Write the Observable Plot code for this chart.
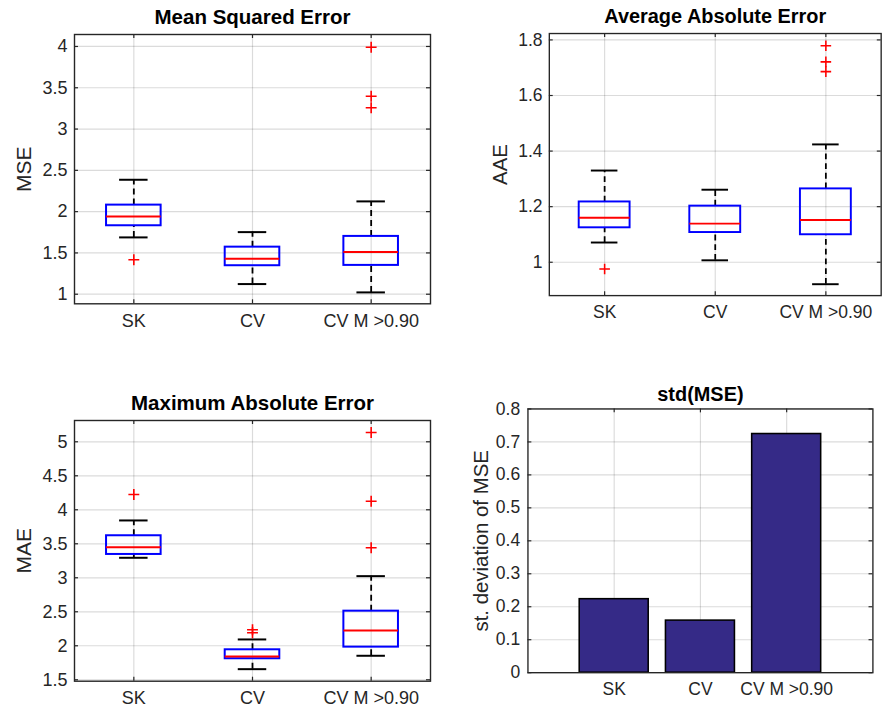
<!DOCTYPE html>
<html>
<head>
<meta charset="utf-8">
<script src="https://cdn.jsdelivr.net/npm/d3@7"></script>
<script src="https://cdn.jsdelivr.net/npm/@observablehq/plot@0.6"></script>
<style>
  html, body { margin: 0; padding: 0; background: #fff; overflow: hidden; }
  #wrap { position: relative; width: 887px; height: 707px; overflow: hidden; background: #fff; }
  .panel { position: absolute; }
</style>
</head>
<body>
<div id="wrap">
  <div class="panel" id="p1" style="left:0px;top:0px"></div>
  <div class="panel" id="p2" style="left:440px;top:0px"></div>
  <div class="panel" id="p3" style="left:0px;top:380px"></div>
  <div class="panel" id="p4" style="left:440px;top:380px"></div>
</div>
<script>
// ---------- data ----------
const categories = ["SK", "CV", "CV M >0.90"];

// Mean Squared Error
const mseLow    = [1.688, 1.123, 1.022];
const mseQ1     = [1.829, 1.345, 1.349];
const mseMedian = [1.942, 1.429, 1.510];
const mseQ3     = [2.079, 1.570, 1.700];
const mseHigh   = [2.386, 1.752, 2.124];
const mseOutliers = [[1.417], [], [3.990, 3.398, 3.258]];
const mseTicks  = [1, 1.5, 2, 2.5, 3, 3.5, 4];

// Average Absolute Error
const aaeLow    = [1.071, 1.007, 0.921];
const aaeQ1     = [1.124, 1.107, 1.099];
const aaeMedian = [1.160, 1.139, 1.152];
const aaeQ3     = [1.217, 1.202, 1.264];
const aaeHigh   = [1.330, 1.261, 1.424];
const aaeOutliers = [[0.976], [], [1.779, 1.721, 1.686]];
const aaeTicks  = [1, 1.2, 1.4, 1.6, 1.8];

// Maximum Absolute Error
const maeLow    = [3.294, 1.656, 1.853];
const maeQ1     = [3.343, 1.809, 1.980];
const maeMedian = [3.450, 1.843, 2.225];
const maeQ3     = [3.618, 1.941, 2.509];
const maeHigh   = [3.843, 2.093, 3.024];
const maeOutliers = [[4.225], [2.235, 2.191], [5.137, 4.126, 3.441]];
const maeTicks  = [1.5, 2, 2.5, 3, 3.5, 4, 4.5, 5];

// std(MSE)
const stdValues = [0.223, 0.158, 0.724];
const stdTicks  = [0, 0.1, 0.2, 0.3, 0.4, 0.5, 0.6, 0.7, 0.8];

// ---------- styling ----------
const FONT = "'Liberation Sans', Arial, Helvetica, sans-serif";
const INK = "#262626";
const fmt = d => String(+(+d).toFixed(3));

function frameMarks(W, H, m, yTicks, xTicks) {
  const fw = W - m.marginLeft - m.marginRight;
  const fh = H - m.marginTop - m.marginBottom;
  const tl = 4;
  return [
    Plot.ruleX(xTicks, {x: d => d, stroke: "#000", strokeOpacity: 0.14, strokeWidth: 1.2}),
    Plot.ruleY(yTicks, {y: d => d, stroke: "#000", strokeOpacity: 0.14, strokeWidth: 1.2}),
    Plot.tickY(yTicks, {y: d => d, stroke: INK, strokeWidth: 1.2, insetRight: fw - tl}),
    Plot.tickY(yTicks, {y: d => d, stroke: INK, strokeWidth: 1.2, insetLeft: fw - tl}),
    Plot.tickX(xTicks, {x: d => d, stroke: INK, strokeWidth: 1.2, insetBottom: fh - tl}),
    Plot.tickX(xTicks, {x: d => d, stroke: INK, strokeWidth: 1.2, insetTop: fh - tl})
  ];
}

function boxPanel(cfg) {
  const {W, H, m, yDomain, yTicks, low, q1, med, q3, high, outliers, title, ylabel, titleDy, labelDx} = cfg;
  const idx = categories.map((_, i) => i);
  const pos = [1, 2, 3];
  const pts = outliers.flatMap((arr, i) => arr.map(v => ({x: i + 1, y: v})));
  const bw = 0.23, cw = 0.12;
  return Plot.plot({
    width: W, height: H, ...m,
    style: {fontFamily: FONT, fontSize: "18px", color: INK, background: "transparent", overflow: "visible"},
    x: {type: "linear", domain: [0.5, 3.5], ticks: pos, tickFormat: d => categories[d - 1], tickSize: 0, tickPadding: 10, label: null},
    y: {domain: yDomain, ticks: yTicks, tickFormat: fmt, tickSize: 0, tickPadding: 7, label: null},
    marks: [
      ...frameMarks(W, H, m, yTicks, pos),
      Plot.ruleX(idx, {x: i => i + 1, y1: i => q3[i], y2: i => high[i], stroke: "#000", strokeWidth: 1.8, strokeDasharray: "6,4"}),
      Plot.ruleX(idx, {x: i => i + 1, y1: i => low[i], y2: i => q1[i], stroke: "#000", strokeWidth: 1.8, strokeDasharray: "6,4"}),
      Plot.ruleY(idx, {y: i => high[i], x1: i => i + 1 - cw, x2: i => i + 1 + cw, stroke: "#000", strokeWidth: 2}),
      Plot.ruleY(idx, {y: i => low[i], x1: i => i + 1 - cw, x2: i => i + 1 + cw, stroke: "#000", strokeWidth: 2}),
      Plot.rect(idx, {x1: i => i + 1 - bw, x2: i => i + 1 + bw, y1: i => q1[i], y2: i => q3[i], fill: "none", stroke: "#0000ff", strokeWidth: 2}),
      Plot.ruleY(idx, {y: i => med[i], x1: i => i + 1 - bw, x2: i => i + 1 + bw, stroke: "#ff0000", strokeWidth: 2}),
      Plot.dot(pts, {x: "x", y: "y", symbol: "plus", r: 3.6, stroke: "#ff0000", strokeWidth: 1.6}),
      Plot.frame({stroke: INK, strokeWidth: 1.4}),
      Plot.text([title], {frameAnchor: "top", dy: titleDy, lineAnchor: "middle", fontWeight: "bold", fontSize: 20.5, fill: "#000"}),
      Plot.text([ylabel], {frameAnchor: "left", dx: labelDx, rotate: -90, textAnchor: "middle", lineAnchor: "middle", fontSize: 21, fill: INK})
    ]
  });
}

// Panel 1
document.getElementById("p1").appendChild(boxPanel({
  W: 440, H: 340, m: {marginLeft: 74, marginRight: 10, marginTop: 34, marginBottom: 36.7},
  yDomain: [0.884, 4.145], yTicks: mseTicks,
  low: mseLow, q1: mseQ1, med: mseMedian, q3: mseQ3, high: mseHigh, outliers: mseOutliers,
  title: "Mean Squared Error", ylabel: "MSE", titleDy: -17, labelDx: -50
}));

// Panel 2
document.getElementById("p2").appendChild(boxPanel({
  W: 460, H: 340, m: {marginLeft: 112, marginRight: 6.5, marginTop: 34, marginBottom: 36.3},
  yDomain: [0.880, 1.823], yTicks: aaeTicks,
  low: aaeLow, q1: aaeQ1, med: aaeMedian, q3: aaeQ3, high: aaeHigh, outliers: aaeOutliers,
  title: "Average Absolute Error", ylabel: "AAE", titleDy: -17, labelDx: -50
}));

// Panel 3
document.getElementById("p3").appendChild(boxPanel({
  W: 440, H: 327, m: {marginLeft: 74, marginRight: 10, marginTop: 40, marginBottom: 26.3},
  yDomain: [1.479, 5.313], yTicks: maeTicks,
  low: maeLow, q1: maeQ1, med: maeMedian, q3: maeQ3, high: maeHigh, outliers: maeOutliers,
  title: "Maximum Absolute Error", ylabel: "MAE", titleDy: -17, labelDx: -50
}));

// Panel 4 (bar chart)
(function () {
  const W = 460, H = 327;
  const m = {marginLeft: 90, marginRight: 15, marginTop: 29.3, marginBottom: 26.3};
  const idx = categories.map((_, i) => i);
  const pos = [1, 2, 3];
  const svg = Plot.plot({
    width: W, height: H, ...m,
    style: {fontFamily: FONT, fontSize: "18px", color: INK, background: "transparent", overflow: "visible"},
    x: {type: "linear", domain: [0, 4], ticks: pos, tickFormat: d => categories[d - 1], tickSize: 0, tickPadding: 10, label: null},
    y: {domain: [0, 0.8], ticks: stdTicks, tickFormat: fmt, tickSize: 0, tickPadding: 8, label: null},
    marks: [
      ...frameMarks(W, H, m, stdTicks, pos),
      Plot.rect(idx, {x1: i => i + 1 - 0.4, x2: i => i + 1 + 0.4, y1: 0, y2: i => stdValues[i], fill: "#352a87", stroke: "#000", strokeWidth: 1.6}),
      Plot.frame({stroke: INK, strokeWidth: 1.4}),
      Plot.text(["std(MSE)"], {frameAnchor: "top", dy: -15, lineAnchor: "middle", fontWeight: "bold", fontSize: 20.5, fill: "#000"}),
      Plot.text(["st. deviation of MSE"], {frameAnchor: "left", dx: -48, rotate: -90, textAnchor: "middle", lineAnchor: "middle", fontSize: 21, fill: INK})
    ]
  });
  document.getElementById("p4").appendChild(svg);
})();
</script>
</body>
</html>
